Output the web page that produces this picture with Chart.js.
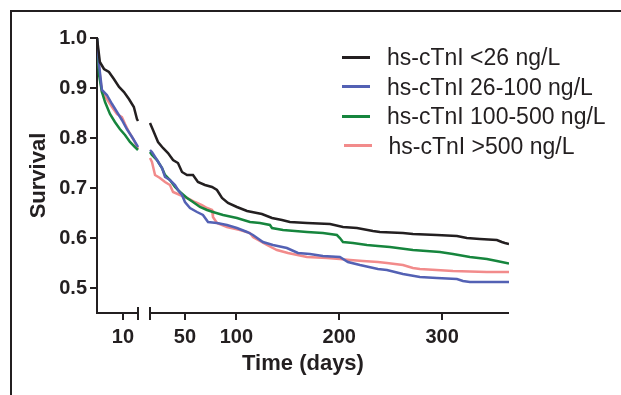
<!DOCTYPE html>
<html><head><meta charset="utf-8">
<script src="https://cdn.jsdelivr.net/npm/chart.js@4.4.1/dist/chart.umd.min.js"></script>
<style>
html,body{margin:0;padding:0;background:#fff;}
#wrap{position:relative;width:621px;height:395px;overflow:hidden;}
#frame{position:absolute;left:10px;top:10px;width:700px;height:600px;border:2px solid #231f20;box-sizing:border-box;}
canvas{position:absolute;left:0;top:0;}
#legend{position:absolute;left:0;top:0;font-family:"Liberation Sans",Arial,sans-serif;font-size:23px;color:#231f20;}
.item{position:absolute;white-space:nowrap;line-height:26px;}
.swatch{position:absolute;height:3px;width:28px;}
</style></head><body>
<div id="wrap"><div id="frame"></div><canvas id="c" width="621" height="395"></canvas><div id="legend"></div></div>
<script>
// ---- data ----
const SERIES_LABELS = ["hs-cTnI <26 ng/L", "hs-cTnI 26-100 ng/L", "hs-cTnI 100-500 ng/L", "hs-cTnI >500 ng/L"];
const SERIES_COLORS = ["#231f20", "#5361b4", "#16853d", "#f28b8b"];

const X_TICKS = [10, 50, 100, 200, 300];
const Y_TICKS = [0.5, 0.6, 0.7, 0.8, 0.9, 1.0];

const DAYS_LT26 = [0,1.1,2.7,4.6,6.5,8.5,10.4,12.3,14.2,15.4,15.8,
  16,18.9,23.8,28.6,33.5,38.4,43.2,47.1,52,57.8,62.6,69.4,76.3,81.1,86,91.8,100.5,110.3,124.8,134.6,144.3,152,168.6,191,203.6,217.2,232.7,239.5,261.9,271.6,294.9,314.4,324,336.7,353.2,358,361,365];
const SURV_LT26 = [1.0,0.952,0.938,0.932,0.918,0.902,0.892,0.878,0.862,0.838,0.834,
  0.83,0.816,0.792,0.78,0.77,0.756,0.75,0.732,0.726,0.726,0.712,0.706,0.702,0.696,0.68,0.67,0.662,0.654,0.648,0.64,0.636,0.632,0.63,0.628,0.622,0.62,0.614,0.612,0.61,0.608,0.606,0.604,0.6,0.598,0.596,0.592,0.59,0.588];

const DAYS_26_100 = [0,0.8,1.9,3.8,5.8,7.7,9.6,11.5,13.5,15.4,15.8,
  16,17.9,22.8,27.7,30.6,35.4,40.3,43.2,47.1,50,54.9,61.7,67.5,72.4,81.1,90.8,100.5,110.3,116.1,125.8,135.5,149.1,159.8,171.5,184.1,200.6,208.4,220.1,237.6,246.3,261.9,278.4,294.9,314.4,320.2,327,365];
const SURV_26_100 = [1.0,0.946,0.896,0.886,0.868,0.852,0.836,0.818,0.802,0.786,0.782,
  0.776,0.772,0.756,0.74,0.722,0.716,0.706,0.696,0.686,0.672,0.66,0.652,0.646,0.632,0.63,0.626,0.62,0.612,0.606,0.592,0.586,0.58,0.57,0.568,0.564,0.562,0.552,0.546,0.538,0.536,0.528,0.522,0.52,0.518,0.514,0.512,0.512];

const DAYS_100_500 = [0,0.8,1.9,3.1,5,6.9,8.8,10.8,12.7,14.6,15.8,
  16,17.9,22.8,27.7,30.6,35.4,40.3,45.2,52,57.8,64.6,71.4,77.2,87,100.5,113.2,122.9,132.6,134.6,145.3,168.6,184.1,197.7,200.6,203.6,213.3,226.9,237.6,249.2,271.6,297.8,310.5,327,343.5,353.2,365];
const SURV_100_500 = [1.0,0.926,0.892,0.872,0.848,0.832,0.818,0.806,0.792,0.782,0.776,
  0.772,0.766,0.756,0.74,0.726,0.716,0.702,0.692,0.68,0.672,0.662,0.656,0.652,0.646,0.64,0.632,0.63,0.626,0.62,0.616,0.612,0.61,0.606,0.6,0.592,0.59,0.586,0.584,0.582,0.576,0.572,0.568,0.562,0.558,0.554,0.549];

const DAYS_GT500 = [0,0.8,1.9,3.8,5.8,7.7,9.6,10.8,12.3,14.2,15.8,
  16,17.9,20.9,25.7,30.6,35.4,38.4,45.2,52,59.7,66.5,71.4,76.3,77.2,81.1,90.8,103.5,113.2,116.1,129.7,139.4,150.1,168.6,188,200.6,210.4,223,237.6,246.3,261.9,271.6,278.4,310.5,343.5,365];
const SURV_GT500 = [1.0,0.94,0.892,0.878,0.862,0.848,0.842,0.828,0.812,0.796,0.778,
  0.76,0.752,0.726,0.72,0.712,0.706,0.692,0.686,0.68,0.672,0.666,0.66,0.656,0.642,0.63,0.622,0.616,0.61,0.602,0.586,0.576,0.57,0.562,0.56,0.558,0.556,0.554,0.552,0.55,0.546,0.54,0.538,0.534,0.532,0.532];

// axis break
const LEFT_END = 15.8, RIGHT_START = 16, X_MAX = 365;

// ---- broken linear scale ----
class BrokenLinear extends Chart.LinearScale {
  _segs() {
    const w = this.width;
    const segW = w * 41 / 412, gap = w * 12 / 412;
    return {segW, gap};
  }
  getPixelForValue(v) {
    if (v === null || v === undefined || isNaN(v)) return NaN;
    const {segW, gap} = this._segs();
    if (v <= (LEFT_END + RIGHT_START) / 2) {
      return this.left + (v - this.min) / (LEFT_END - this.min) * segW;
    }
    return this.left + segW + gap + (v - RIGHT_START) / (this.max - RIGHT_START) * (this.width - segW - gap);
  }
  getValueForPixel(p) {
    const {segW, gap} = this._segs();
    const d = p - this.left;
    if (d <= segW + gap / 2) return this.min + d / segW * (LEFT_END - this.min);
    return RIGHT_START + (d - segW - gap) / (this.width - segW - gap) * (this.max - RIGHT_START);
  }
}
BrokenLinear.id = 'brokenLinear';
BrokenLinear.defaults = {};
Chart.register(BrokenLinear);

function makePoints(days, surv) {
  const pts = [];
  for (let i = 0; i < days.length; i++) {
    if (i > 0 && days[i - 1] <= LEFT_END && days[i] >= RIGHT_START) {
      pts.push({x: (LEFT_END + RIGHT_START) / 2, y: null});
    }
    pts.push({x: days[i], y: surv[i]});
  }
  return pts;
}

const ALL = [[DAYS_LT26, SURV_LT26], [DAYS_26_100, SURV_26_100], [DAYS_100_500, SURV_100_500], [DAYS_GT500, SURV_GT500]];
const datasets = ALL.map((s, i) => ({
  label: SERIES_LABELS[i],
  data: makePoints(s[0], s[1]),
  borderColor: SERIES_COLORS[i],
  backgroundColor: SERIES_COLORS[i],
  borderWidth: 2.5,
  pointRadius: 0,
  tension: 0,
  spanGaps: false,
  fill: false
}));

const INK = '#231f20';
const FONT = '"Liberation Sans", Arial, sans-serif';

const breakPlugin = {
  id: 'axisBreak',
  afterDraw(chart) {
    const x = chart.scales.x, ca = chart.chartArea, ctx = chart.ctx;
    const y = ca.bottom;
    const p1 = x.getPixelForValue(LEFT_END), p2 = x.getPixelForValue(RIGHT_START);
    ctx.save();
    ctx.strokeStyle = INK;
    ctx.lineWidth = 2;
    ctx.lineCap = 'butt';
    ctx.beginPath();
    ctx.moveTo(ca.left - 1, y); ctx.lineTo(p1, y);
    ctx.moveTo(p2, y); ctx.lineTo(ca.right, y);
    ctx.moveTo(p1, y - 6); ctx.lineTo(p1, y + 7);
    ctx.moveTo(p2, y - 6); ctx.lineTo(p2, y + 7);
    ctx.stroke();
    ctx.restore();
  }
};

new Chart(document.getElementById('c'), {
  type: 'line',
  data: {datasets},
  options: {
    responsive: false,
    animation: false,
    devicePixelRatio: 1,
    layout: {padding: {left: 0, top: 38, right: 112, bottom: 0}},
    plugins: {legend: {display: false}, tooltip: {enabled: false}},
    scales: {
      x: {
        type: 'brokenLinear',
        min: 0, max: X_MAX,
        bounds: 'data',
        afterBuildTicks: (s) => { s.ticks = X_TICKS.map(v => ({value: v})); },
        afterFit: (s) => { s.height = 82; },
        border: {display: false},
        grid: {display: true, drawOnChartArea: false, drawTicks: true, tickLength: 7, color: INK, lineWidth: 2},
        ticks: {autoSkip: false, maxRotation: 0, padding: 5, color: INK, font: {family: FONT, size: 20, weight: 'bold'}, callback: (v) => String(v)},
        title: {display: true, text: 'Time (days)', color: INK, font: {family: FONT, size: 22, weight: 'bold'}, padding: {top: 0, bottom: 18}}
      },
      y: {
        type: 'linear',
        min: 0.45, max: 1.0,
        afterBuildTicks: (s) => { s.ticks = Y_TICKS.map(v => ({value: v})); },
        afterFit: (s) => { s.width = 97; },
        border: {display: true, color: INK, width: 2},
        grid: {display: true, drawOnChartArea: false, drawTicks: true, tickLength: 7, color: INK, lineWidth: 2},
        ticks: {padding: 3, color: INK, font: {family: FONT, size: 20, weight: 'bold'}, callback: (v) => Number(v).toFixed(1)},
        title: {display: true, text: 'Survival', color: INK, font: {family: FONT, size: 22, weight: 'bold'}, padding: {top: 26, bottom: 0}}
      }
    }
  },
  plugins: [breakPlugin]
});

// ---- legend (HTML) ----
const ROW_Y = [57, 86.5, 116, 145.5];
const leg = document.getElementById('legend');
SERIES_LABELS.forEach((lab, i) => {
  const extra = i === 3 ? 1.5 : 0;
  const sw = document.createElement('div');
  sw.className = 'swatch';
  sw.style.left = (342 + extra) + 'px';
  sw.style.top = (ROW_Y[i] - 1.5) + 'px';
  sw.style.background = SERIES_COLORS[i];
  leg.appendChild(sw);
  const t = document.createElement('div');
  t.className = 'item';
  t.style.left = (387 + extra) + 'px';
  t.style.top = (ROW_Y[i] - 13) + 'px';
  t.textContent = lab;
  leg.appendChild(t);
});
</script>
</body></html>
